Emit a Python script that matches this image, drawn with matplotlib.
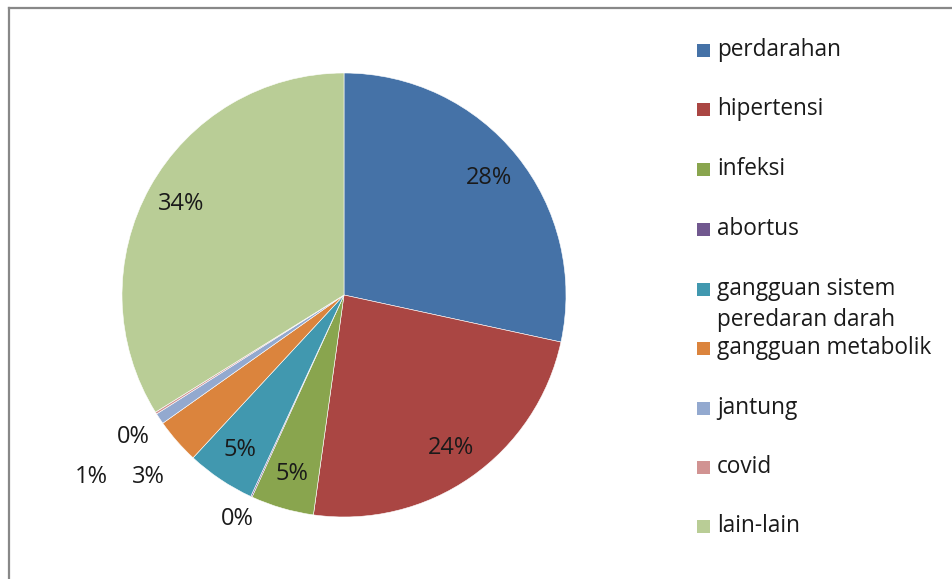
import matplotlib
matplotlib.use("Agg")
import matplotlib.pyplot as plt
from matplotlib.patches import Rectangle
from matplotlib.lines import Line2D
import numpy as np

categories = ["perdarahan", "hipertensi", "infeksi", "abortus",
              "gangguan sistem\nperedaran darah", "gangguan metabolik",
              "jantung", "covid", "lain-lain"]
values = [28.4, 23.8, 4.6, 0.1, 5.0, 3.3, 0.8, 0.15, 33.85]
colors = ["#4572A7", "#AA4643", "#89A54E", "#71588F", "#4198AF",
          "#DB843D", "#93A9CF", "#D19392", "#B9CD96"]
# outside label positions for the small slices (data units, radius = 1)
outside_pos = {3: (-0.48, -1.01), 5: (-0.88, -0.82), 6: (-1.14, -0.82), 7: (-0.95, -0.64)}

W, H = 952, 579
fig = plt.figure(figsize=(W / 100, H / 100), dpi=100)
plt.rcParams['font.family'] = ['Open Sans', 'DejaVu Sans']

cx, cy, R = 344, 295, 222
ax = fig.add_axes([(cx - R) / W, (H - cy - R) / H, 2 * R / W, 2 * R / H])
wedges, _ = ax.pie(values, colors=colors, startangle=90, counterclock=False,
                   radius=1, wedgeprops=dict(edgecolor="white", linewidth=0.4))
ax.set_xlim(-1, 1)
ax.set_ylim(-1, 1)
ax.set_aspect("equal")
ax.axis("off")

total = sum(values)
for i, (w, v) in enumerate(zip(wedges, values)):
    label = f"{round(v / total * 100):.0f}%"
    if i in outside_pos:
        x, y = outside_pos[i]
    else:
        ang = np.deg2rad((w.theta1 + w.theta2) / 2)
        r = 0.84
        x, y = r * np.cos(ang), r * np.sin(ang)
    ax.text(x, y, label, ha="center", va="center", fontsize=17, color="#1a1a1a",
            clip_on=False)

# legend drawn manually (entries equally spaced, wrapped label does not shift)
ys = [50, 109, 169, 229, 289, 348, 408, 467, 526]
for i, (lab, col) in enumerate(zip(categories, colors)):
    y = ys[i]
    fig.patches.append(Rectangle((697 / W, (H - y - 7) / H), 13 / W, 13 / H,
                                 transform=fig.transFigure, facecolor=col,
                                 edgecolor="none"))
    for j, line in enumerate(lab.split("\n")):
        fig.text(717 / W, (H - y - 31 * j) / H, line, ha="left", va="center",
                 fontsize=16.3, color="#1a1a1a")

# frame border
fig.add_artist(Line2D([9 / W, 9 / W], [0, (H - 8) / H], transform=fig.transFigure,
                      color="#888888", linewidth=1.6))
fig.add_artist(Line2D([9 / W, 1], [(H - 8) / H, (H - 8) / H], transform=fig.transFigure,
                      color="#888888", linewidth=1.6))

fig.savefig("out.png", dpi=100, facecolor="white")
